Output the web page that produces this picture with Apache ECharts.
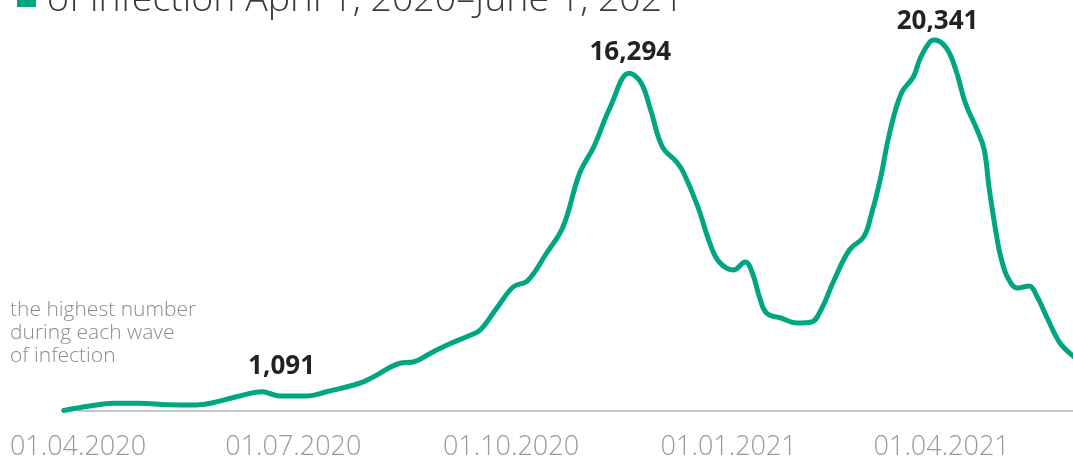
<!DOCTYPE html>
<html>
<head>
<meta charset="utf-8">
<script src="https://cdn.jsdelivr.net/npm/echarts@6/dist/echarts.min.js"></script>
<style>
html,body{margin:0;padding:0;background:#fff;}
#chart{width:1073px;height:459px;}
</style>
</head>
<body>
<div id="chart"></div>
<script>
// Smoothed daily new cases
const dates = [
  '2020-03-26','2020-04-06','2020-04-16','2020-04-27','2020-05-09','2020-05-21','2020-05-28',
  '2020-06-07','2020-06-18','2020-06-21','2020-06-25','2020-07-07','2020-07-15','2020-07-29',
  '2020-08-04','2020-08-15','2020-08-21','2020-08-28','2020-09-04','2020-09-13','2020-09-18',
  '2020-09-25','2020-10-02','2020-10-08','2020-10-16','2020-10-23','2020-10-30','2020-11-05',
  '2020-11-12','2020-11-20','2020-11-25','2020-11-29','2020-12-04','2020-12-10','2020-12-13',
  '2020-12-19','2020-12-24','2020-12-28','2021-01-03','2021-01-08','2021-01-11','2021-01-14',
  '2021-01-17','2021-01-23','2021-01-30','2021-02-05','2021-02-09','2021-02-14','2021-02-21',
  '2021-02-27','2021-03-02','2021-03-06','2021-03-10','2021-03-15','2021-03-20','2021-03-23',
  '2021-03-27','2021-03-29','2021-04-03','2021-04-07','2021-04-11','2021-04-16','2021-04-19',
  '2021-04-21','2021-04-24','2021-04-26','2021-04-29','2021-05-03','2021-05-08','2021-05-11',
  '2021-05-16','2021-05-21','2021-05-27','2021-06-01'
];
const avgCases = [
  20, 200, 310, 310, 250, 240, 330,
  570, 770, 700, 600, 600, 770, 1110,
  1370, 1910, 1970, 2310, 2640, 3000, 3240,
  4120, 4970, 5210, 6310, 7370, 9510, 10570,
  12170, 13510, 13120, 12040, 10560, 9960, 9520,
  8160, 6720, 5960, 5640, 5960, 5520, 4560,
  3920, 3720, 3520, 3560, 4040, 5120, 6440,
  6960, 7760, 9240, 11120, 12720, 13360, 14120,
  14760, 14840, 14520, 13640, 12320, 11240, 10440,
  8960, 7120, 6160, 5320, 4920, 5000, 4640,
  3640, 2720, 2160, 1800
];
// x-axis labels
const tickDates = ['2020-04-01','2020-07-01','2020-10-01','2021-01-01','2021-04-01'];
const tickLabels = ['01.04.2020','01.07.2020','01.10.2020','01.01.2021','01.04.2021'];
// annotated wave peaks (highest daily number in each wave)
const peakDates = ['2020-06-18','2020-11-20','2021-03-29'];
const peakLabels = ['1,091','16,294','20,341'];

const titleText = 'of infection April 1, 2020\u2013June 1, 2021';
const noteText = 'the highest number\nduring each wave\nof infection';

const START = '2020-04-01';
const END = '2021-06-01';
function dayIndex(s){
  const p = s.split('-').map(Number);
  const q = START.split('-').map(Number);
  return Math.round((Date.UTC(p[0],p[1]-1,p[2]) - Date.UTC(q[0],q[1]-1,q[2]))/86400000);
}
const seriesData = dates.map((d,i)=>[dayIndex(d), avgCases[i]]);
const tickIdx = tickDates.map(dayIndex);
const xMin = dayIndex(dates[0]) - 1;
const xMax = dayIndex(END);
const pxPerDay = 2.3662;
const peakOffsets = [[19,-25],[1,-21],[3,-18]];
const peakPoints = peakDates.map((d,i)=>{
  const k = dates.indexOf(d);
  return {
    coord:[dayIndex(d), avgCases[k]],
    value: peakLabels[i],
    label:{offset: peakOffsets[i]}
  };
});

const GREEN = '#00a582';
const chart = echarts.init(document.getElementById('chart'), null, {renderer:'canvas'});
chart.setOption({
  animation:false,
  backgroundColor:'#ffffff',
  grid:{left:78 + xMin*pxPerDay, top:11, width:(xMax - xMin)*pxPerDay, height:400, containLabel:false, outerBoundsMode:'none'},
  xAxis:{
    type:'value',
    min:xMin,
    max:xMax,
    splitLine:{show:false},
    axisTick:{show:false},
    axisLine:{show:false},
    axisLabel:{
      customValues: tickIdx,
      margin:23,
      fontFamily:'Open Sans',
      fontWeight:300,
      fontSize:27,
      color:'#9a9a9a',
      formatter:function(v){const i = tickIdx.indexOf(Math.round(v)); return i>=0 ? tickLabels[i] : '';}
    }
  },
  yAxis:{
    type:'value', min:0, max:16000, show:false, splitLine:{show:false}
  },
  graphic:[
    {type:'rect', left:17, top:-12, shape:{width:19, height:19}, style:{fill:GREEN}},
    {type:'text', x:47, y:19, style:{text:titleText, fontFamily:'Open Sans', fontWeight:300, fontSize:37.5, fill:'#3a3a3a', verticalAlign:'bottom', align:'left'}},
    {type:'text', x:10, y:299, style:{text:noteText, fontFamily:'Open Sans', fontWeight:300, fontSize:21, lineHeight:23, fill:'#8c8c8c', verticalAlign:'top', align:'left'}}
  ],
  series:[{
    type:'line',
    data:seriesData,
    smooth:0.4,
    showSymbol:false,
    symbol:'none',
    z:3,
    lineStyle:{color:GREEN, width:5, cap:'round', join:'round'},
    markLine:{
      silent:true,
      symbol:['none','none'],
      label:{show:false},
      lineStyle:{color:'#b3b3b3', width:1.5, type:'solid'},
      z:1,
      data:[[{coord:[0,0]},{coord:[xMax,0]}]]
    },
    markPoint:{
      symbol:'circle',
      symbolSize:0,
      itemStyle:{color:'rgba(0,0,0,0)'},
      label:{
        show:true,
        position:'inside',
        fontFamily:'Open Sans',
        fontWeight:'bold',
        fontSize:26,
        color:'#222222',
        formatter:function(p){return p.value;}
      },
      data:peakPoints
    }
  }]
});
</script>
</body>
</html>
